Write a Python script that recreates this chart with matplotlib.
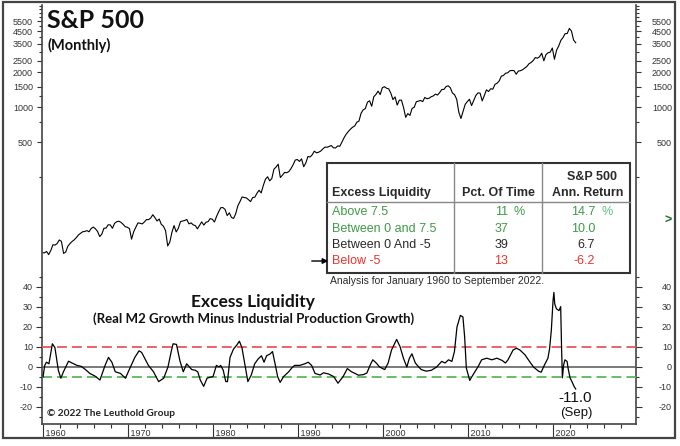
import numpy as np
import matplotlib
matplotlib.use('Agg')
import matplotlib.pyplot as plt
from matplotlib.patches import Rectangle, FancyArrowPatch
from matplotlib.lines import Line2D
from matplotlib.ticker import FixedLocator, NullFormatter, FuncFormatter

plt.rcParams['font.family'] = 'Liberation Sans'
plt.rcParams['axes.unicode_minus'] = False

W, H = 680, 446

# S&P 500: Jan 1960 value, then quarter-end closes Mar 1960 .. Sep 2022
sp_start = 55.61
sp_quarterly = [
    55.34, 56.92, 53.52, 58.11,   65.06, 64.64, 66.73, 71.55,
    69.55, 54.75, 56.27, 63.10,   66.57, 69.37, 71.70, 75.02,
    78.98, 81.69, 84.18, 84.75,   86.16, 84.12, 89.96, 92.43,
    89.23, 84.74, 76.56, 80.33,   90.20, 90.64, 96.71, 96.47,
    90.20, 99.58, 102.67, 103.86, 101.51, 97.71, 93.12, 92.06,
    89.63, 72.72, 84.21, 92.15,   100.31, 99.70, 98.34, 102.09,
    107.20, 107.14, 110.55, 118.05, 111.52, 104.26, 108.43, 97.55,
    93.98, 86.00, 63.54, 68.56,   83.36, 95.19, 83.87, 90.19,
    102.77, 104.28, 105.24, 107.46, 98.42, 100.48, 96.53, 95.10,
    89.21, 95.53, 102.54, 96.11,  101.59, 102.91, 109.32, 107.94,
    102.09, 114.24, 125.46, 135.76, 136.00, 131.21, 116.18, 122.55,
    111.96, 109.61, 120.42, 140.64, 152.96, 168.11, 166.07, 164.93,
    159.18, 153.18, 166.10, 167.24, 180.66, 191.85, 182.08, 211.28,
    238.90, 250.84, 231.32, 242.17, 291.70, 304.00, 321.83, 247.08,
    258.89, 273.50, 271.91, 277.72, 294.87, 317.98, 349.15, 353.40,
    339.94, 358.02, 306.05, 330.22, 375.22, 371.16, 387.86, 417.09,
    403.69, 408.14, 417.80, 435.71, 451.67, 450.53, 458.93, 466.45,
    445.77, 444.27, 462.69, 459.27, 500.71, 544.75, 584.41, 615.93,
    645.50, 670.63, 687.31, 740.74, 757.12, 885.14, 947.28, 970.43,
    1101.75, 1133.84, 1017.01, 1229.23, 1286.37, 1372.71, 1282.71, 1469.25,
    1498.58, 1454.60, 1436.51, 1320.28, 1160.33, 1224.42, 1040.94, 1148.08,
    1147.39, 989.82, 815.28, 879.82, 848.18, 974.50, 995.97, 1111.92,
    1126.21, 1140.84, 1114.58, 1211.92, 1180.59, 1191.33, 1228.81, 1248.29,
    1294.83, 1270.20, 1335.85, 1418.30, 1420.86, 1503.35, 1526.75, 1468.36,
    1322.70, 1280.00, 1166.36, 903.25, 797.87, 919.32, 1057.08, 1115.10,
    1169.43, 1030.71, 1141.20, 1257.64, 1325.83, 1320.64, 1131.42, 1257.60,
    1408.47, 1362.16, 1440.67, 1426.19, 1569.19, 1606.28, 1681.55, 1848.36,
    1872.34, 1960.23, 1972.29, 2058.90, 2067.89, 2063.11, 1920.03, 2043.94,
    2059.74, 2098.86, 2168.27, 2238.83, 2362.72, 2423.41, 2519.36, 2673.61,
    2640.87, 2718.37, 2913.98, 2506.85, 2834.40, 2941.76, 2976.74, 3230.78,
    2584.59, 3100.29, 3363.00, 3756.07, 3972.89, 4297.50, 4307.54, 4766.18,
    4530.41, 3785.38, 3585.62,
]

# Excess liquidity (%)
liq_year = [
    1960.0, 1960.2, 1960.4, 1960.7, 1961.1, 1961.4, 1961.8, 1962.1, 1962.4, 1963.0,
    1963.6, 1964.0, 1964.5, 1965.0, 1965.5, 1966.1, 1966.7, 1967.3, 1967.7, 1968.1,
    1968.5, 1969.1, 1969.7, 1970.2, 1970.8, 1971.3, 1971.6, 1972.0, 1972.4, 1973.0,
    1973.6, 1974.2, 1974.7, 1975.1, 1975.3, 1975.7, 1976.1, 1976.5, 1976.9, 1977.5,
    1977.9, 1978.2, 1978.5, 1978.9, 1979.3, 1979.6, 1980.0, 1980.4, 1980.7, 1980.9,
    1981.2, 1981.5, 1981.7, 1982.0, 1982.4, 1982.8, 1983.1, 1983.4, 1983.7, 1984.1,
    1984.5, 1984.9, 1985.3, 1985.7, 1986.0, 1986.3, 1986.7, 1987.0, 1987.3, 1987.6,
    1987.9, 1988.3, 1988.9, 1989.3, 1989.6, 1990.2, 1990.8, 1991.2, 1991.6, 1992.0,
    1992.6, 1993.0, 1993.6, 1994.2, 1994.7, 1995.3, 1995.8, 1996.3, 1996.7, 1997.1,
    1997.7, 1998.1, 1998.5, 1998.8, 1999.2, 1999.6, 2000.2, 2000.6, 2001.0, 2001.6,
    2002.0, 2002.4, 2002.8, 2003.1, 2003.4, 2003.8, 2004.2, 2004.5, 2005.1, 2005.7,
    2006.3, 2006.9, 2007.3, 2007.7, 2008.1, 2008.4, 2008.7, 2009.1, 2009.4, 2009.6,
    2009.8, 2010.2, 2010.6, 2011.2, 2011.6, 2012.2, 2012.8, 2013.4, 2014.0, 2014.4,
    2014.7, 2015.3, 2015.7, 2016.1, 2016.7, 2017.1, 2017.7, 2018.3, 2018.6, 2019.0,
    2019.4, 2019.6, 2019.8, 2020.0, 2020.1, 2020.2, 2020.4, 2020.7, 2020.9, 2021.0,
    2021.1, 2021.25, 2021.4, 2021.65, 2021.8, 2022.0, 2022.2, 2022.5, 2022.67,
]
liq_val = [
    -5.0, 0.8, 2.4, 1.6, 11.6, 9.7, -1.6, -5.6, -2.4, 2.9,
    1.6, 0.8, 0.3, -1.3, -3.2, -4.5, -6.5, 0.8, 4.8, 2.4,
    -2.4, -3.2, -5.6, -0.8, 4.8, 8.1, 7.3, 4.0, 0.8, -2.4,
    -7.3, -5.6, 0.0, 8.1, 11.6, 11.3, 3.2, -2.4, 1.6, -1.3,
    -1.6, -2.4, -6.5, -9.7, -5.6, -5.2, -4.8, 0.8, 0.0, 0.8,
    -1.6, -7.3, -7.3, 4.8, 8.9, 11.0, 12.9, 9.7, 2.4, -7.3,
    -4.0, 1.6, 4.0, 5.6, 2.4, 5.6, 6.5, 7.7, 1.6, -4.8,
    -7.7, -4.8, -2.4, -0.3, 0.8, 0.8, 1.6, 2.4, 0.8, -3.2,
    -4.0, -2.9, -3.5, -4.8, -8.1, -4.8, -0.8, -2.4, -3.2, -4.1,
    -3.8, -3.0, 1.1, 3.6, 2.0, 0.0, -1.3, 2.0, 8.5, 13.8,
    10.2, 4.4, 0.0, 4.4, 6.6, 2.0, 0.0, -1.3, -2.1, -1.6,
    0.0, 2.8, 2.0, 3.6, 2.8, 7.7, 20.0, 25.8, 25.0, 15.1,
    -0.5, -6.7, -3.8, 0.3, 3.6, 4.4, 3.6, 4.4, 3.3, 2.0,
    3.6, 8.5, 9.4, 8.5, 6.1, 3.6, 0.0, -2.1, -2.6, 1.1,
    4.4, 9.4, 18.4, 33.2, 37.3, 31.5, 29.1, 28.2, 30.2, 10.2,
    -5.4, 1.1, 3.6, 2.8, -1.3, -5.4, -7.1, -9.9, -11.0,
]

sp_ticks = [500, 1000, 1500, 2000, 2500, 3500, 4500, 5500]
sp_minor = [250, 750, 1250, 3000, 4000, 5000, 6000, 6500, 7000, 7500]
liq_ticks = [-20, -10, 0, 10, 20, 30, 40]
liq_minor = [-25, -15, -5, 5, 15, 25, 35, 45]
year_ticks = [1960, 1970, 1980, 1990, 2000, 2010, 2020]
year_minor = list(range(1962, 2030, 2))

tbl_labels = ['Above 7.5', 'Between 0 and 7.5', 'Between 0 And -5', 'Below -5']
tbl_pct = ['11', '37', '39', '13']
tbl_ret = ['14.7', '10.0', '6.7', '-6.2']

GREEN = '#3f9b45'
RED = '#e8352c'
DARK = '#2a2a2a'
tbl_colors = [GREEN, GREEN, DARK, RED]


def fx(x):
    return x / W


def fy(y):
    return 1 - y / H


sp_x = np.concatenate([[1960.0], 1960 + 2 / 12 + 0.25 * np.arange(len(sp_quarterly))])
sp_y = np.concatenate([[sp_start], sp_quarterly])

fig = plt.figure(figsize=(W / 100, H / 100), dpi=100)
rect = [fx(42), fy(424), fx(636) - fx(42), fy(5) - fy(424)]
ax = fig.add_axes(rect)
axr = ax.twinx()
ax2 = ax.twinx()
ax2r = ax.twinx()

# S&P 500 (log scale)
ax.plot(sp_x, sp_y, color='black', lw=0.8)
for a in (ax, axr):
    a.set_yscale('log')
    a.set_ylim(1.853, 7590)
    a.yaxis.set_major_locator(FixedLocator(sp_ticks))
    a.yaxis.set_major_formatter(FuncFormatter(lambda v, p: f'{v:.0f}'))
    a.yaxis.set_minor_locator(FixedLocator(sp_minor))
    a.yaxis.set_minor_formatter(NullFormatter())

# excess liquidity (linear)
ax2.plot(liq_year, liq_val, color='black', lw=0.9, zorder=3)
ax2.axhline(10, color='#e8585a', lw=1.3, ls=(0, (5.5, 2.8)))
ax2.axhline(-5, color='#5cb85c', lw=1.3, ls=(0, (5.5, 2.8)))
ax2.axhline(0, color='#555555', lw=1.1)
for a in (ax2, ax2r):
    a.set_ylim(-28.5, 181)
    a.yaxis.set_major_locator(FixedLocator(liq_ticks))
    a.yaxis.set_minor_locator(FixedLocator(liq_minor))
    a.yaxis.set_minor_formatter(NullFormatter())

ax.set_xlim(1959.88, 2029.76)

tick_kw = dict(axis='y', direction='out', width=0.8, colors='#333333', labelsize=6.5)
minor_kw = dict(axis='y', direction='out', width=0.8, colors='#333333')
ax.tick_params(which='major', length=3.6, pad=2.9, left=True, right=False,
               labelleft=True, labelright=False, **tick_kw)
ax.tick_params(which='minor', length=2.2, left=True, right=False, **minor_kw)
axr.tick_params(which='major', length=3.6, pad=22.3, left=False, right=True,
                labelleft=False, labelright=True, **tick_kw)
axr.tick_params(which='minor', length=2.2, left=False, right=True, **minor_kw)
ax2.tick_params(which='major', length=4.3, pad=2.2, left=True, right=False,
                labelleft=True, labelright=False, **tick_kw)
ax2.tick_params(which='minor', length=2.5, left=True, right=False, **minor_kw)
ax2r.tick_params(which='major', length=4.3, pad=21.6, left=False, right=True,
                 labelleft=False, labelright=True, **tick_kw)
ax2r.tick_params(which='minor', length=2.5, left=False, right=True, **minor_kw)
for a in (axr, ax2r):
    for lab in a.get_yticklabels():
        lab.set_horizontalalignment('right')

# x axis
ax.set_xticks(year_ticks)
ax.set_xticks(year_minor, minor=True)
ax.set_xticklabels([f' {y}' for y in year_ticks])
ax.tick_params(axis='x', which='major', direction='out', length=9.4, width=0.8,
               pad=-5.8, labelsize=6.5, colors='#333333')
ax.tick_params(axis='x', which='minor', direction='out', length=2.9, width=0.8, colors='#333333')
for lab in ax.get_xticklabels():
    lab.set_horizontalalignment('left')

for a in (ax, axr, ax2, ax2r):
    a.spines['top'].set_visible(False)
    a.patch.set_visible(False)
for a in (axr, ax2, ax2r):
    for s in a.spines.values():
        s.set_visible(False)
for s in ('left', 'right', 'bottom'):
    ax.spines[s].set_color('#444444')
    ax.spines[s].set_linewidth(1.2)

# titles
fig.text(fx(47), fy(20), 'S&P 500', fontsize=18, fontweight='bold', family='Lato',
         va='center', ha='left', color='#111111')
fig.text(fx(48), fy(45), '(Monthly)', fontsize=10.5, fontweight='bold', family='Lato',
         va='center', ha='left', color='#111111')
fig.text(fx(253), fy(302), 'Excess Liquidity', fontsize=12.5, fontweight='bold', family='Lato',
         va='center', ha='center', color='#111111')
fig.text(fx(254), fy(319), '(Real M2 Growth Minus Industrial Production Growth)', fontsize=9.5,
         fontweight='bold', family='Lato', va='center', ha='center', color='#111111')
fig.text(fx(47), fy(414), '\u00a9 2022 The Leuthold Group', fontsize=7.3, fontweight='bold',
         family='Lato', va='center', ha='left', color='#222222')
fig.text(fx(575), fy(398), '-11.0', fontsize=11, va='center', ha='center', color='#111111')
fig.text(fx(576), fy(413), '(Sep)', fontsize=9.5, va='center', ha='center', color='#111111')
fig.text(fx(668), fy(221), '>', fontsize=9, fontweight='bold', va='center', ha='center',
         color='#1f6b2c')

# table
fig.add_artist(Rectangle((fx(327), fy(273)), fx(630) - fx(327), fy(163) - fy(273),
                         transform=fig.transFigure, facecolor='white', edgecolor='#333333',
                         lw=1.5, zorder=5))
for xc in (454, 542):
    fig.add_artist(Line2D([fx(xc), fx(xc)], [fy(163), fy(273)], transform=fig.transFigure,
                          color='#888888', lw=1.0, zorder=6))
fig.add_artist(Line2D([fx(327), fx(630)], [fy(202), fy(202)], transform=fig.transFigure,
                      color='#888888', lw=1.0, zorder=6))
hdr = dict(fontsize=9, fontweight='bold', va='center', color=DARK, zorder=7)
fig.text(fx(332), fy(193), 'Excess Liquidity', ha='left', **hdr)
fig.text(fx(498), fy(193), 'Pct. Of Time', ha='center', **hdr)
fig.text(fx(617), fy(177), 'S&P 500', ha='right', **hdr)
fig.text(fx(623), fy(193), 'Ann. Return', ha='right', **hdr)
row_y = [212, 229, 245, 261]
for i, (lab, p, r, c) in enumerate(zip(tbl_labels, tbl_pct, tbl_ret, tbl_colors)):
    y = fy(row_y[i])
    fig.text(fx(332), y, lab, ha='left', va='center', fontsize=9, color=c, zorder=7)
    fig.text(fx(508), y, p, ha='right', va='center', fontsize=9, color=c, zorder=7)
    fig.text(fx(595), y, r, ha='right', va='center', fontsize=9, color=c, zorder=7)
fig.text(fx(513), fy(row_y[0]), '%', ha='left', va='center', fontsize=9, color=GREEN, zorder=7)
fig.text(fx(602), fy(row_y[0]), '%', ha='left', va='center', fontsize=9, color='#5cc080', zorder=7)
fig.text(fx(330), fy(281), 'Analysis for January 1960 to September 2022.', ha='left',
         va='center', fontsize=7.5, color=DARK)
fig.add_artist(FancyArrowPatch((fx(309), fy(261)), (fx(331), fy(261)),
                               transform=fig.transFigure, arrowstyle='-|>',
                               mutation_scale=8, color='black', lw=1.0, zorder=8))

# outer frame
fig.add_artist(Rectangle((fx(3), fy(438)), fx(675) - fx(3), fy(2) - fy(438),
                         transform=fig.transFigure, fill=False, edgecolor='#444444', lw=1.6))

fig.savefig('out.png', dpi=100)
